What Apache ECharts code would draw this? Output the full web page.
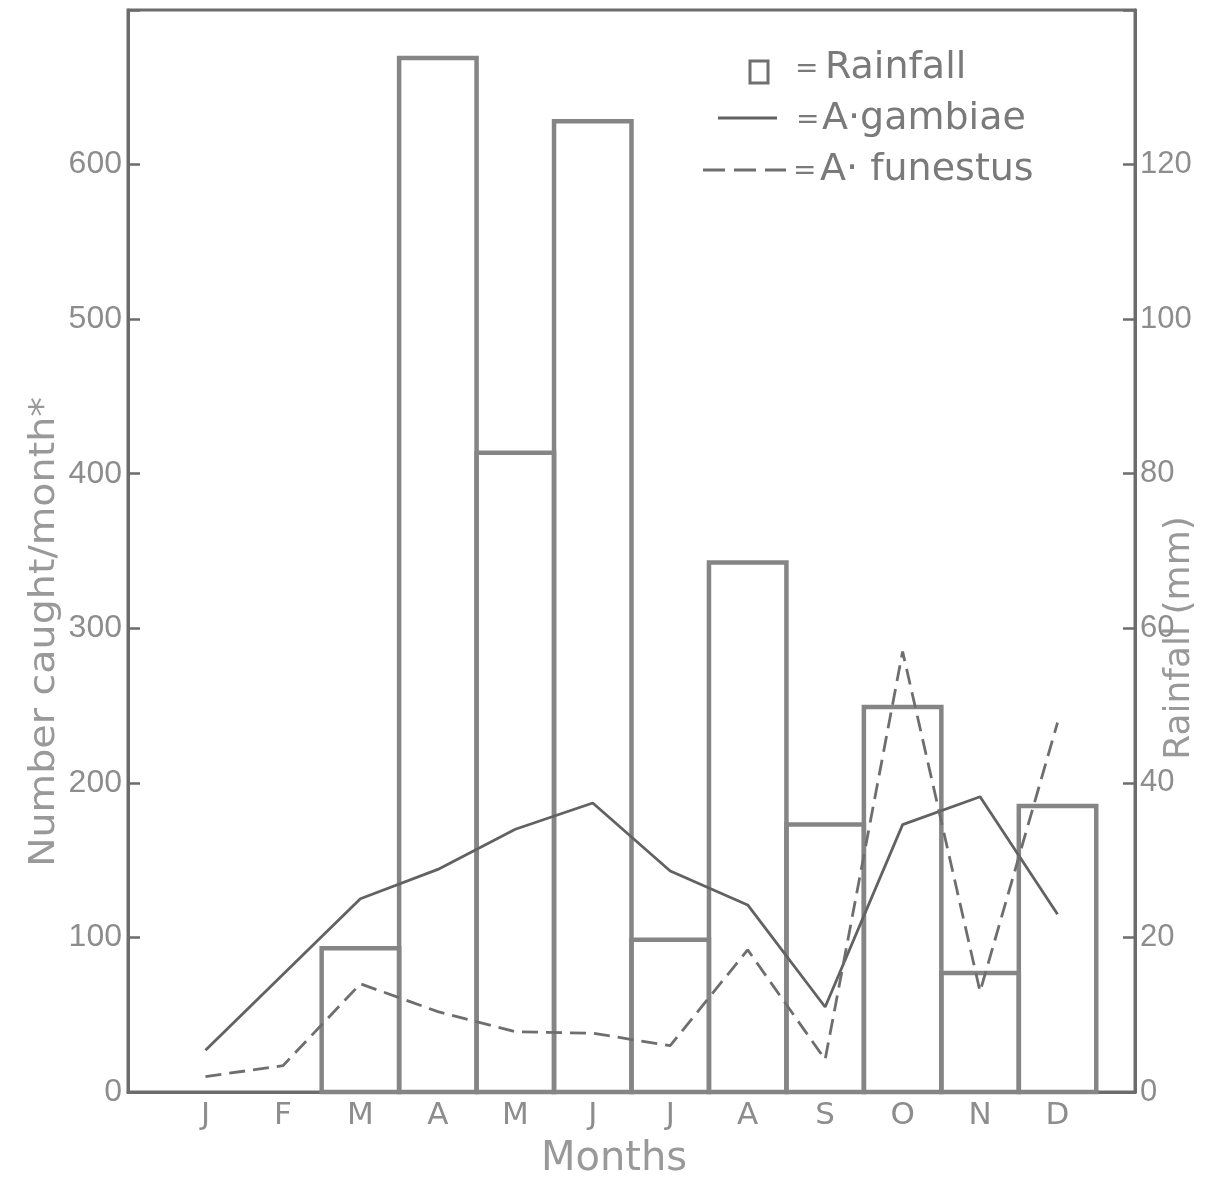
<!DOCTYPE html>
<html>
<head>
<meta charset="utf-8">
<script src="https://cdn.jsdelivr.net/npm/echarts@6/dist/echarts.min.js"></script>
<style>
  html, body { margin: 0; padding: 0; background: #ffffff; }
  #chart { width: 1225px; height: 1180px; }
</style>
</head>
<body>
<div id="chart"></div>
<script>
// Month initials along the bottom axis
const months = ['J', 'F', 'M', 'A', 'M', 'J', 'J', 'A', 'S', 'O', 'N', 'D'];
// Monthly rainfall (mm), right axis
const rainfallMm = [0, 0, 18.6, 133.8, 82.7, 125.6, 19.7, 68.5, 34.6, 49.8, 15.4, 37];
// Mosquitoes caught per month, left axis
const gambiae = [27, 76, 125, 144, 170, 187, 143, 121, 55, 173, 191, 115];
const funestus = [10, 17, 70, 52, 39, 38, 30, 92, 21, 285, 65, 239];

const INK = '#6c6c6c';
const BAR_INK = '#858585';
const LABEL_INK = '#8d8d8d';
const TITLE_INK = '#999999';
const KEY_INK = '#7a7a7a';
const NUM_FONT = 'Liberation Sans';
const TEXT_FONT = 'DejaVu Sans';

const chart = echarts.init(document.getElementById('chart'), null, { renderer: 'canvas' });

const pairs = arr => arr.map((v, i) => [i, v]);

chart.setOption({
  backgroundColor: '#ffffff',
  animation: false,
  grid: {
    left: 128, right: 90, top: 10, bottom: 88,
    show: true, borderColor: INK, borderWidth: 3, backgroundColor: 'transparent'
  },
  xAxis: {
    type: 'value', min: -1, max: 12, interval: 1,
    axisLine: { show: true, onZero: false, lineStyle: { color: INK, width: 3 } },
    axisTick: { show: false },
    splitLine: { show: false },
    axisLabel: {
      margin: 8, color: LABEL_INK, fontFamily: TEXT_FONT, fontSize: 31,
      formatter: v => (months[v] !== undefined ? months[v] : '')
    }
  },
  yAxis: [
    {
      type: 'value', position: 'left', min: 0, max: 700, interval: 100,
      axisLine: { show: true, onZero: false, lineStyle: { color: INK, width: 3 } },
      axisTick: { show: true, inside: true, length: 12, lineStyle: { color: INK, width: 2.5 } },
      splitLine: { show: false },
      axisLabel: {
        margin: 6, color: LABEL_INK, fontFamily: NUM_FONT, fontSize: 32,
        formatter: v => (v >= 700 ? '' : String(v))
      }
    },
    {
      type: 'value', position: 'right', min: 0, max: 140, interval: 20,
      axisLine: { show: true, onZero: false, lineStyle: { color: INK, width: 3 } },
      axisTick: { show: true, inside: true, length: 12, lineStyle: { color: INK, width: 2.5 } },
      splitLine: { show: false },
      axisLabel: {
        margin: 5, color: LABEL_INK, fontFamily: NUM_FONT, fontSize: 31,
        formatter: v => (v >= 140 ? '' : String(v))
      }
    }
  ],
  series: [
    {
      // rainfall drawn as open rectangles one month wide
      name: 'Rainfall',
      type: 'custom',
      xAxisIndex: 0,
      yAxisIndex: 1,
      data: pairs(rainfallMm),
      encode: { x: 0, y: 1 },
      z: 2,
      renderItem: function (params, api) {
        const i = api.value(0);
        const v = api.value(1);
        if (!v) return null;
        const topLeft = api.coord([i - 0.5, v]);
        const bottomRight = api.coord([i + 0.5, 0]);
        return {
          type: 'rect',
          shape: {
            x: topLeft[0], y: topLeft[1],
            width: bottomRight[0] - topLeft[0],
            height: bottomRight[1] - topLeft[1]
          },
          style: { fill: 'none', stroke: BAR_INK, lineWidth: 4.5 }
        };
      }
    },
    {
      name: 'A·gambiae',
      type: 'line',
      yAxisIndex: 0,
      data: pairs(gambiae),
      symbol: 'none',
      z: 3,
      lineStyle: { color: '#626262', width: 2.8 }
    },
    {
      name: 'A·funestus',
      type: 'line',
      yAxisIndex: 0,
      data: pairs(funestus),
      symbol: 'none',
      z: 3,
      lineStyle: { color: '#6e6e6e', width: 2.8, type: [16, 8] }
    }
  ],
  graphic: [
    // axis titles
    {
      type: 'text', x: 45, y: 632, rotation: Math.PI / 2, scaleX: 1.1,
      style: {
        text: 'Number caught/month*', font: '36px "' + TEXT_FONT + '"',
        fill: TITLE_INK, align: 'center', verticalAlign: 'middle'
      }
    },
    {
      type: 'text', x: 1180, y: 638, rotation: Math.PI / 2,
      style: {
        text: 'Rainfall (mm)', font: '36px "' + TEXT_FONT + '"',
        fill: TITLE_INK, align: 'center', verticalAlign: 'middle'
      }
    },
    {
      type: 'text', x: 614, y: 1160,
      style: {
        text: 'Months', font: '40px "' + TEXT_FONT + '"',
        fill: TITLE_INK, align: 'center', verticalAlign: 'middle'
      }
    },
    // key
    {
      type: 'rect', shape: { x: 750, y: 61, width: 18, height: 22 },
      style: { fill: 'none', stroke: '#707070', lineWidth: 3 }
    },
    {
      type: 'text', x: 795, y: 70,
      style: { text: '=', font: '28px "' + TEXT_FONT + '"', fill: KEY_INK, align: 'left', verticalAlign: 'middle' }
    },
    {
      type: 'text', x: 825, y: 68,
      style: { text: 'Rainfall', font: '38px "' + TEXT_FONT + '"', fill: KEY_INK, align: 'left', verticalAlign: 'middle' }
    },
    {
      type: 'line', shape: { x1: 718, y1: 118, x2: 777, y2: 118 },
      style: { stroke: '#626262', lineWidth: 2.8 }
    },
    {
      type: 'text', x: 796, y: 121,
      style: { text: '=', font: '28px "' + TEXT_FONT + '"', fill: KEY_INK, align: 'left', verticalAlign: 'middle' }
    },
    {
      type: 'text', x: 822, y: 119,
      style: { text: 'A\u00b7gambiae', font: '38px "' + TEXT_FONT + '"', fill: KEY_INK, align: 'left', verticalAlign: 'middle' }
    },
    {
      type: 'line', shape: { x1: 703, y1: 170, x2: 786, y2: 170 },
      style: { stroke: '#6e6e6e', lineWidth: 2.8, lineDash: [22, 9] }
    },
    {
      type: 'text', x: 793, y: 172,
      style: { text: '=', font: '28px "' + TEXT_FONT + '"', fill: KEY_INK, align: 'left', verticalAlign: 'middle' }
    },
    {
      type: 'text', x: 820, y: 170,
      style: { text: 'A\u00b7 funestus', font: '38px "' + TEXT_FONT + '"', fill: KEY_INK, align: 'left', verticalAlign: 'middle' }
    }
  ]
});
</script>
</body>
</html>
